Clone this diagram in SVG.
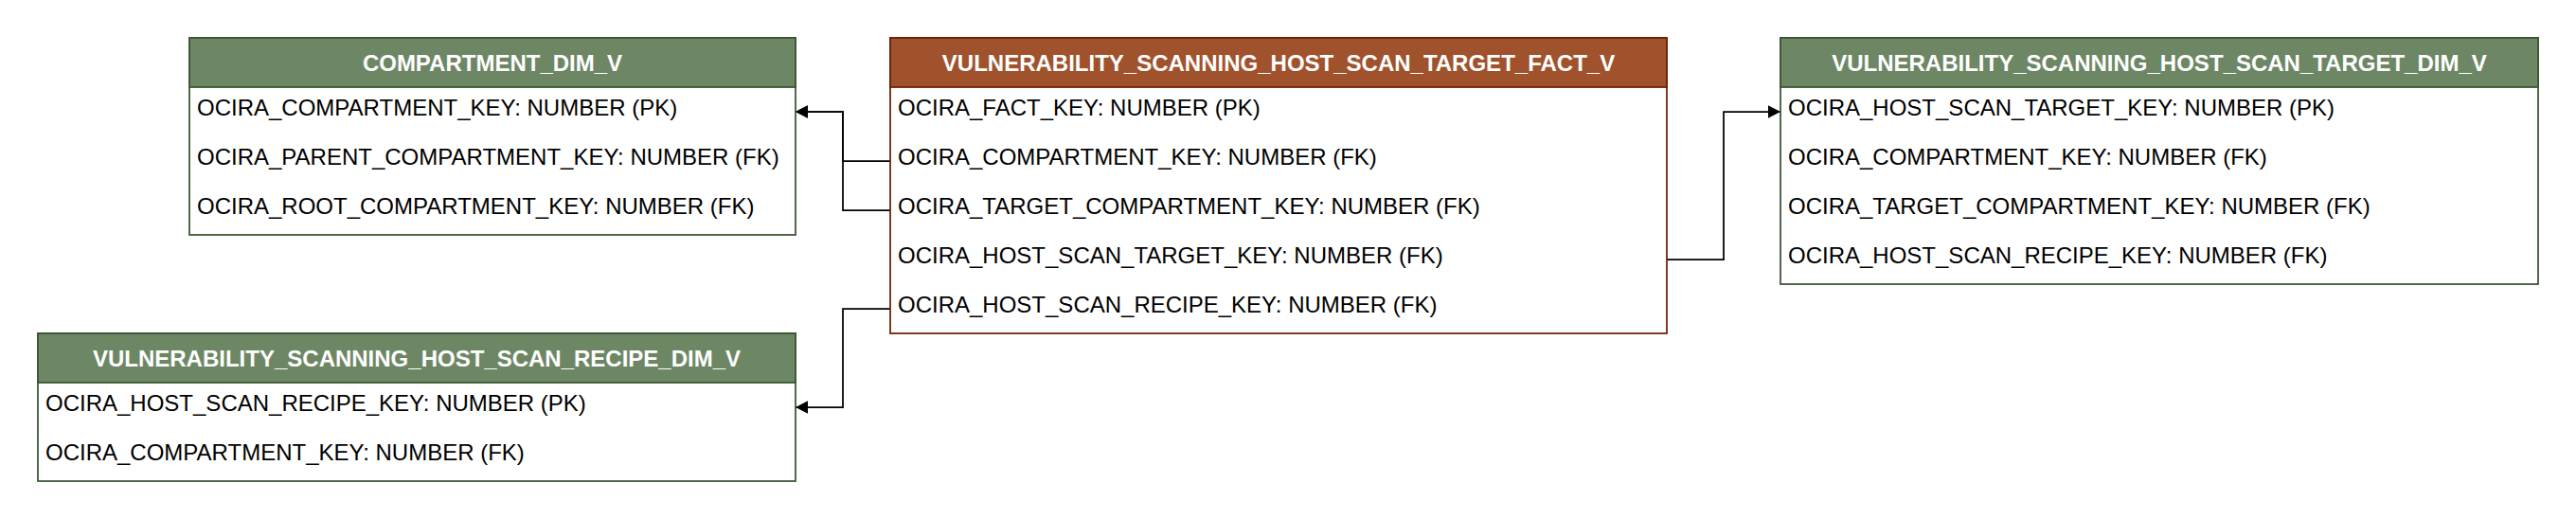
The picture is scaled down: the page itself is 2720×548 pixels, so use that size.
<svg xmlns="http://www.w3.org/2000/svg" width="2720" height="548" viewBox="0 0 2720 548">
<style>
.body{fill:#ffffff;stroke-width:1.75}
.g{stroke:#3a5431}
.b{stroke:#6d1f00}
.gh{fill:#6d8764;stroke:#3a5431;stroke-width:1.75}
.bh{fill:#a0522d;stroke:#6d1f00;stroke-width:1.75}
.ht{font-family:"Liberation Sans",Arial,sans-serif;font-size:24px;font-weight:bold;fill:#ffffff;text-anchor:middle}
.rt{font-family:"Liberation Sans",Arial,sans-serif;font-size:24px;fill:#000000}
.conn{fill:none;stroke:#000000;stroke-width:1.75;marker-end:url(#arr)}
</style>
<defs>
<marker id="arr" markerUnits="userSpaceOnUse" markerWidth="13" markerHeight="14" viewBox="0 0 12.5 13" refX="12.5" refY="6.5" orient="auto">
<path d="M0,0 L12.5,6.5 L0,13 Z" fill="#000000"/>
</marker>
</defs>
<rect width="2720" height="548" fill="#ffffff"/>
<g id="connectors">
<path class="conn" d="M940,170 H890 V118 H840"/>
<path class="conn" d="M940,222 H890 V118 H840"/>
<path class="conn" d="M940,326 H890 V430 H840"/>
<path class="conn" d="M1760,274 H1820 V118 H1880"/>
</g>
<g id="compartment_dim_v">
<rect class="body g" x="200" y="40" width="640" height="208"/>
<rect class="gh" x="200" y="40" width="640" height="52"/>
<text class="ht" x="520" y="75">COMPARTMENT_DIM_V</text>
<text class="rt" x="208" y="122">OCIRA_COMPARTMENT_KEY: NUMBER (PK)</text>
<text class="rt" x="208" y="174">OCIRA_PARENT_COMPARTMENT_KEY: NUMBER (FK)</text>
<text class="rt" x="208" y="226">OCIRA_ROOT_COMPARTMENT_KEY: NUMBER (FK)</text>
</g>
<g id="vulnerability_scanning_host_scan_target_fact_v">
<rect class="body b" x="940" y="40" width="820" height="312"/>
<rect class="bh" x="940" y="40" width="820" height="52"/>
<text class="ht" x="1350" y="75">VULNERABILITY_SCANNING_HOST_SCAN_TARGET_FACT_V</text>
<text class="rt" x="948" y="122">OCIRA_FACT_KEY: NUMBER (PK)</text>
<text class="rt" x="948" y="174">OCIRA_COMPARTMENT_KEY: NUMBER (FK)</text>
<text class="rt" x="948" y="226">OCIRA_TARGET_COMPARTMENT_KEY: NUMBER (FK)</text>
<text class="rt" x="948" y="278">OCIRA_HOST_SCAN_TARGET_KEY: NUMBER (FK)</text>
<text class="rt" x="948" y="330">OCIRA_HOST_SCAN_RECIPE_KEY: NUMBER (FK)</text>
</g>
<g id="vulnerability_scanning_host_scan_target_dim_v">
<rect class="body g" x="1880" y="40" width="800" height="260"/>
<rect class="gh" x="1880" y="40" width="800" height="52"/>
<text class="ht" x="2280" y="75">VULNERABILITY_SCANNING_HOST_SCAN_TARGET_DIM_V</text>
<text class="rt" x="1888" y="122">OCIRA_HOST_SCAN_TARGET_KEY: NUMBER (PK)</text>
<text class="rt" x="1888" y="174">OCIRA_COMPARTMENT_KEY: NUMBER (FK)</text>
<text class="rt" x="1888" y="226">OCIRA_TARGET_COMPARTMENT_KEY: NUMBER (FK)</text>
<text class="rt" x="1888" y="278">OCIRA_HOST_SCAN_RECIPE_KEY: NUMBER (FK)</text>
</g>
<g id="vulnerability_scanning_host_scan_recipe_dim_v">
<rect class="body g" x="40" y="352" width="800" height="156"/>
<rect class="gh" x="40" y="352" width="800" height="52"/>
<text class="ht" x="440" y="387">VULNERABILITY_SCANNING_HOST_SCAN_RECIPE_DIM_V</text>
<text class="rt" x="48" y="434">OCIRA_HOST_SCAN_RECIPE_KEY: NUMBER (PK)</text>
<text class="rt" x="48" y="486">OCIRA_COMPARTMENT_KEY: NUMBER (FK)</text>
</g>
</svg>
